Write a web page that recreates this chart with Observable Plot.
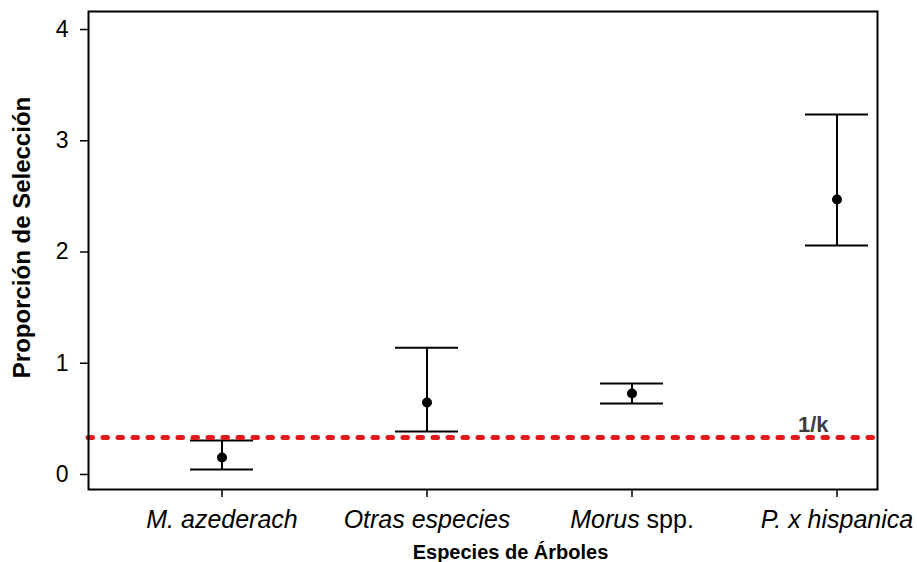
<!DOCTYPE html>
<html><head><meta charset="utf-8">
<script src="https://cdn.jsdelivr.net/npm/d3@7"></script>
<script src="https://cdn.jsdelivr.net/npm/@observablehq/plot@0.6"></script>
<style>body{margin:0;background:#fff}</style>
</head><body><div id="chart"></div>
<script>
const species = ["M. azederach", "Otras especies", "Morus spp.", "P. x hispanica"];
const proportion = [0.153, 0.647, 0.728, 2.472];
const lower = [0.045, 0.387, 0.638, 2.058];
const upper = [0.306, 1.14, 0.818, 3.236];
const yTicks = [0, 1, 2, 3, 4];
const oneOverK = [1 / 3];
const refLabel = ["1/k"];
const yTitle = ["Proporción de Selección"];
const xTitle = ["Especies de Árboles"];

const data = species.map((s, i) => ({species: s, p: proportion[i], lo: lower[i], hi: upper[i]}));
const font = "'Liberation Sans', Arial, Helvetica, sans-serif";

const chart = Plot.plot({
  width: 917, height: 562,
  marginLeft: 88, marginRight: 40, marginTop: 11, marginBottom: 73,
  style: {fontFamily: font, background: "#fff", color: "black"},
  x: {type: "band", domain: species, range: [188.5, 868.5], paddingInner: 0.6937, paddingOuter: 0},
  y: {domain: [-0.135, 4.162]},
  marks: [
    Plot.axisY({ticks: yTicks, tickFormat: d3.format("d"), tickSize: 8, tickPadding: 12, fontSize: 23, label: null, strokeWidth: 1.5}),
    Plot.axisX({tickSize: 8, tickPadding: 13, fontSize: 25, fontStyle: "italic", label: null, strokeWidth: 1.5}),
    Plot.ruleX(data, {x: "species", y1: "lo", y2: "hi", stroke: "black", strokeWidth: 2}),
    Plot.tickY(data, {x: "species", y: "lo", stroke: "black", strokeWidth: 2}),
    Plot.tickY(data, {x: "species", y: "hi", stroke: "black", strokeWidth: 2}),
    Plot.dot(data, {x: "species", y: "p", r: 5, fill: "black", stroke: null}),
    Plot.ruleY(oneOverK, {stroke: "#e31a1c", strokeWidth: 5, strokeDasharray: "4.5,10.5", strokeLinecap: "round"}),
    Plot.text(refLabel, {y: oneOverK, text: d => d, frameAnchor: "right", textAnchor: "end", lineAnchor: "bottom", dx: -49, dy: -5, fontSize: 22, fontWeight: "bold", fill: "#3c3c3c"}),
    Plot.text(yTitle, {text: d => d, frameAnchor: "left", textAnchor: "middle", lineAnchor: "middle", rotate: -90, dx: -66, dy: -13, fontSize: 24, fontWeight: "bold", fill: "black"}),
    Plot.text(xTitle, {text: d => d, frameAnchor: "bottom", textAnchor: "middle", lineAnchor: "bottom", dx: 27.5, dy: 69, fontSize: 20, fontWeight: "bold", fill: "black"}),
    Plot.frame({stroke: "black", strokeWidth: 2})
  ]
});

d3.select(chart).selectAll("text").filter(function() { return this.textContent === "Morus spp."; }).each(function() {
  const t = d3.select(this);
  t.text(null);
  t.append("tspan").attr("font-style", "italic").text("Morus");
  t.append("tspan").attr("font-style", "normal").text(" spp.");
});

document.getElementById("chart").appendChild(chart);
</script>
</body></html>
